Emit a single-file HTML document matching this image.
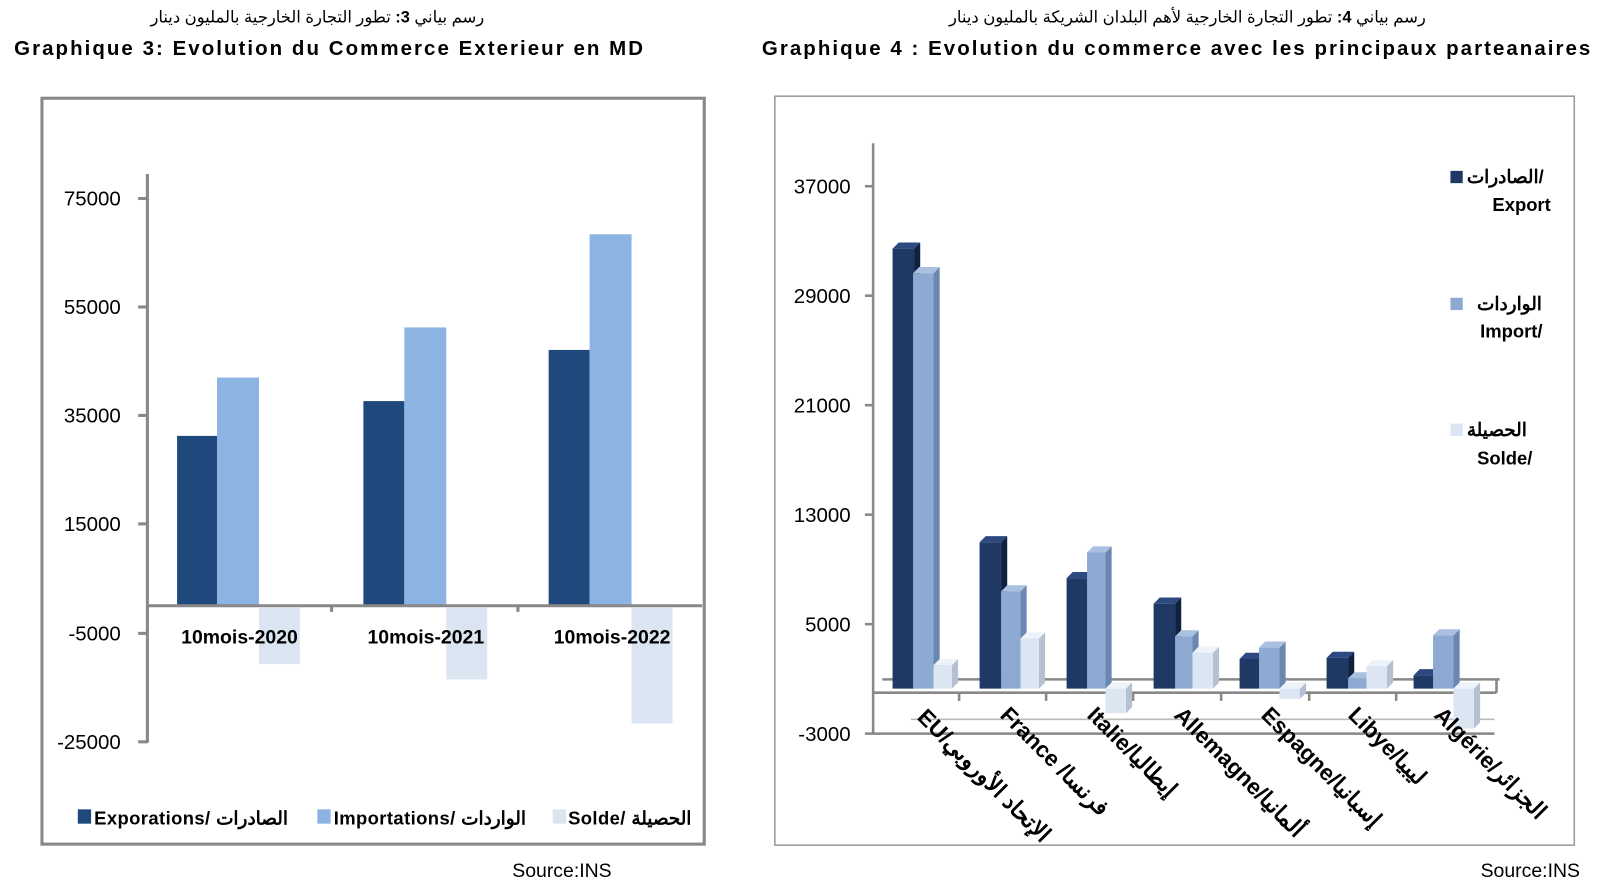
<!DOCTYPE html>
<html><head><meta charset="utf-8"><style>
html,body{margin:0;padding:0;background:#fff;}
svg{display:block;font-family:"Liberation Sans","Noto Sans CJK SC",sans-serif;}
.b{font-weight:bold}
</style></head><body>
<svg width="1605" height="882" viewBox="0 0 1568 862" preserveAspectRatio="none">
<!-- titles -->
<text x="310" y="22" font-size="16" text-anchor="middle">رسم بياني <tspan class="b">3:</tspan> تطور التجارة الخارجية بالمليون دينار</text>
<text x="322" y="54" font-size="20" class="b" text-anchor="middle" letter-spacing="2">Graphique 3: Evolution du Commerce Exterieur en MD</text>
<text x="1160" y="22" font-size="16" text-anchor="middle">رسم بياني <tspan class="b">4:</tspan> تطور التجارة الخارجية لأهم البلدان الشريكة بالمليون دينار</text>
<text x="1150" y="54" font-size="20" class="b" text-anchor="middle" letter-spacing="2">Graphique 4 : Evolution du commerce avec les principaux parteanaires</text>

<!-- LEFT CHART -->
<rect x="41" y="96" width="647" height="729" fill="#fff" stroke="#888" stroke-width="3"/>
<g font-size="20" text-anchor="end">
<text x="118" y="201">75000</text>
<text x="118" y="307">55000</text>
<text x="118" y="413">35000</text>
<text x="118" y="519">15000</text>
<text x="118" y="626">-5000</text>
<text x="118" y="732">-25000</text>
</g>
<g fill="#1f497d">
<rect x="173" y="426" width="39" height="166"/>
<rect x="355" y="392" width="40" height="200"/>
<rect x="536" y="342" width="40" height="250"/>
</g>
<g fill="#8db3e2">
<rect x="212" y="369" width="41" height="223"/>
<rect x="395" y="320" width="41" height="272"/>
<rect x="576" y="229" width="41" height="363"/>
</g>
<g fill="#dbe5f1">
<rect x="253" y="594" width="40" height="55"/>
<rect x="436" y="594" width="40" height="70"/>
<rect x="617" y="594" width="40" height="113"/>
</g>
<g stroke="#888" stroke-width="3" fill="none">
<line x1="144" y1="170" x2="144" y2="726"/>
<line x1="144" y1="592" x2="686" y2="592"/>
<line x1="135" y1="194" x2="144" y2="194"/>
<line x1="135" y1="300" x2="144" y2="300"/>
<line x1="135" y1="406" x2="144" y2="406"/>
<line x1="135" y1="512" x2="144" y2="512"/>
<line x1="135" y1="619" x2="144" y2="619"/>
<line x1="135" y1="725" x2="144" y2="725"/>
<line x1="324" y1="592" x2="324" y2="598"/>
<line x1="506" y1="592" x2="506" y2="598"/>
</g>
<g font-size="19" class="b" text-anchor="middle">
<text x="234" y="629">10mois-2020</text>
<text x="416" y="629">10mois-2021</text>
<text x="598" y="629">10mois-2022</text>
</g>
<g font-size="18" class="b">
<rect x="76" y="791" width="13" height="14" fill="#1f497d"/>
<text x="92" y="806" letter-spacing="0.4">Exporations/  الصادرات</text>
<rect x="310" y="791" width="13" height="14" fill="#8db3e2"/>
<text x="326" y="806" letter-spacing="0.4">Importations/ الواردات</text>
<rect x="540" y="791" width="13" height="14" fill="#dbe5f1"/>
<text x="555" y="806" letter-spacing="0.4">Solde/ الحصيلة</text>
</g>
<text x="549" y="857" font-size="19" text-anchor="middle">Source:INS</text>

<!-- RIGHT CHART -->
<rect x="757" y="94" width="781" height="732" fill="#fff" stroke="#999" stroke-width="1.5"/>
<g font-size="20" text-anchor="end">
<text x="831" y="189">37000</text>
<text x="831" y="296">29000</text>
<text x="831" y="403">21000</text>
<text x="831" y="510">13000</text>
<text x="831" y="617">5000</text>
<text x="831" y="724">-3000</text>
</g>
<g stroke="#888" stroke-width="2.5" fill="none">
<line x1="853" y1="140" x2="853" y2="717"/>
<line x1="845" y1="182" x2="853" y2="182"/>
<line x1="845" y1="289" x2="853" y2="289"/>
<line x1="845" y1="396" x2="853" y2="396"/>
<line x1="845" y1="503" x2="853" y2="503"/>
<line x1="845" y1="610" x2="853" y2="610"/>
<line x1="845" y1="717" x2="1460" y2="717"/>
<line x1="862" y1="664" x2="1465" y2="664"/>
<line x1="853" y1="677" x2="1462" y2="677"/>
<line x1="1462" y1="664" x2="1462" y2="677"/>
</g>
<line x1="890" y1="703" x2="1460" y2="703" stroke="#bbb" stroke-width="1.5"/>
<g stroke="#888" stroke-width="2.5">
<line x1="937" y1="677" x2="937" y2="685"/>
<line x1="1022" y1="677" x2="1022" y2="685"/>
<line x1="1107" y1="677" x2="1107" y2="685"/>
<line x1="1193" y1="677" x2="1193" y2="685"/>
<line x1="1279" y1="677" x2="1279" y2="685"/>
<line x1="1364" y1="677" x2="1364" y2="685"/>
</g>
<g id="bars"></g>
<script>
(function(){
var ns="http://www.w3.org/2000/svg",g=document.getElementById("bars");
var C=[["#1f3864","#10213f","#2c4a80"],["#8eaad2","#6a87b0","#a9c0e0"],["#dce6f2","#b5c1d1","#eef3f9"]];
var base=673,d=6;
var bars=[
[872,21,243,0],[892,20,267,1],[912,18,650,2],
[957,21,530,0],[978,19,578,1],[997,18,624,2],
[1042,20,565,0],[1062,18,540,1],[1080,20,-697,2],
[1127,21,590,0],[1148,17,622,1],[1165,20,638,2],
[1211,19,644,0],[1230,20,633,1],[1250,20,-683,2],
[1296,21,643,0],[1317,18,663,1],[1335,20,651,2],
[1381,19,660,0],[1400,20,621,1],[1420,20,-712,2]];
function p(pts,f){var e=document.createElementNS(ns,"polygon");e.setAttribute("points",pts);e.setAttribute("fill",f);g.appendChild(e);}
bars.forEach(function(b){var x=b[0],w=b[1],c=C[b[3]],t,bt;
if(b[2]<0){t=base;bt=-b[2];}else{t=b[2];bt=base;}
p((x+w)+","+t+" "+(x+w+d)+","+(t-d)+" "+(x+w+d)+","+(bt-d)+" "+(x+w)+","+bt,c[1]);
p(x+","+t+" "+(x+d)+","+(t-d)+" "+(x+w+d)+","+(t-d)+" "+(x+w)+","+t,c[2]);
p(x+","+t+" "+(x+w)+","+t+" "+(x+w)+","+bt+" "+x+","+bt,c[0]);});
})();
</script>
<g font-size="22" class="b">
<text transform="translate(895,702) rotate(45)">EU/الإتحاد الأوروبي</text>
<text transform="translate(976,700) rotate(45)">France  /فرنسا</text>
<text transform="translate(1061,700) rotate(45)">Italie/إيطاليا</text>
<text transform="translate(1146,700) rotate(45)">Allemagne/ألمانيا</text>
<text transform="translate(1231,700) rotate(45)">Espagne/إسبانيا</text>
<text transform="translate(1316,700) rotate(45)">Libye/ليبيا</text>
<text transform="translate(1400,700) rotate(45)">Algérie/الجزائر</text>
</g>
<g font-size="18" class="b">
<rect x="1417" y="167" width="12" height="12" fill="#1f3864"/>
<text x="1433" y="179">الصادرات/</text>
<text x="1515" y="206" text-anchor="end">Export</text>
<rect x="1417" y="291" width="12" height="12" fill="#8eaad2"/>
<text x="1443" y="303">الواردات</text>
<text x="1507" y="330" text-anchor="end">Import/</text>
<rect x="1417" y="414" width="12" height="12" fill="#dce6f2"/>
<text x="1433" y="426">الحصيلة</text>
<text x="1497" y="454" text-anchor="end">Solde/</text>
</g>
<text x="1495" y="857" font-size="19" text-anchor="middle">Source:INS</text>
</svg>
</body></html>
